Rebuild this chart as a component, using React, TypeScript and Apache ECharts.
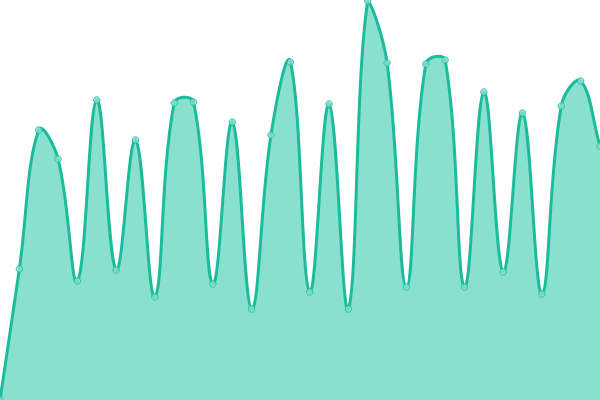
import React, { useEffect, useRef } from "react";
import * as echarts from "echarts";

const categories: string[] = Array.from({ length: 32 }, (_, i) => String(i + 1));
const values: number[] = [
  0, 32.75, 67.5, 60.25, 29.75, 75, 32.5, 65, 25.75, 74.25, 74.5, 29, 69.5, 22.75,
  66.25, 84.5, 27, 74, 22.75, 99.75, 84.25, 28.25, 84, 85, 28.25, 77, 32, 71.75,
  26.5, 73.5, 79.75, 63.5,
];

const LINE = "#1abc9c";
const FILL = "#8ae0cf";
const TENSION = 0.4;

function buildPaths(pts: number[][], left: number, top: number, right: number, bottom: number) {
  const n = pts.length;
  const cps: { prev: number[]; next: number[] }[] = [];
  for (let i = 0; i < n; i++) {
    const p = pts[i];
    const a = i > 0 ? pts[i - 1] : p;
    const b = i < n - 1 ? pts[i + 1] : p;
    const d01 = Math.hypot(p[0] - a[0], p[1] - a[1]);
    const d12 = Math.hypot(b[0] - p[0], b[1] - p[1]);
    const sum = d01 + d12 || 1;
    const fa = (TENSION * d01) / sum;
    const fb = (TENSION * d12) / sum;
    const clampX = (v: number) => Math.min(right, Math.max(left, v));
    const clampY = (v: number) => Math.min(bottom, Math.max(top, v));
    cps.push({
      prev: [clampX(p[0] - fa * (b[0] - a[0])), clampY(p[1] - fa * (b[1] - a[1]))],
      next: [clampX(p[0] + fb * (b[0] - a[0])), clampY(p[1] + fb * (b[1] - a[1]))],
    });
  }
  let d = `M${pts[0][0]},${pts[0][1]}`;
  for (let i = 1; i < n; i++) {
    const c1 = cps[i - 1].next;
    const c2 = cps[i].prev;
    d += ` C${c1[0]},${c1[1]} ${c2[0]},${c2[1]} ${pts[i][0]},${pts[i][1]}`;
  }
  const area = `${d} L${pts[n - 1][0]},${bottom} L${pts[0][0]},${bottom} Z`;
  return { line: d, area };
}

export default function App() {
  const ref = useRef<HTMLDivElement>(null);
  useEffect(() => {
    if (!ref.current) return;
    const chart = echarts.init(ref.current, undefined, { renderer: "svg" });
    chart.setOption({
      animation: false,
      grid: { left: 0, right: 0, top: 0, bottom: 0 },
      xAxis: {
        type: "category",
        data: categories,
        boundaryGap: false,
        show: false,
      },
      yAxis: { type: "value", min: 0, max: 100, show: false },
      series: [
        {
          type: "custom",
          data: values.map((v, i) => [i, v]),
          clip: false,
          silent: true,
          renderItem: (params: any, api: any) => {
            if (params.dataIndex !== 0) return null;
            const cs = params.coordSys;
            const pts = values.map((v, i) => api.coord([i, v]));
            const { line, area } = buildPaths(pts, cs.x, cs.y, cs.x + cs.width, cs.y + cs.height);
            return {
              type: "group",
              children: [
                { type: "path", shape: { pathData: area }, style: { fill: FILL, stroke: "none" } },
                {
                  type: "path",
                  shape: { pathData: line },
                  style: { fill: "none", stroke: LINE, lineWidth: 3 },
                },
              ],
            };
          },
        },
        {
          type: "scatter",
          data: values.map((v, i) => [i, v]),
          symbol: "circle",
          symbolSize: 6.5,
          itemStyle: { color: FILL, borderColor: LINE, borderWidth: 1 },
        },
      ],
    });
    return () => chart.dispose();
  }, []);
  return (
    <div
      ref={ref}
      style={{ position: "absolute", left: 0, top: 0, width: 600, height: 400 }}
    />
  );
}
